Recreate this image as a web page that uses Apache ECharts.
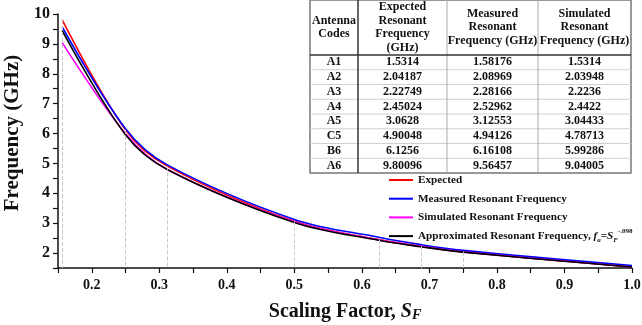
<!DOCTYPE html>
<html>
<head>
<meta charset="utf-8">
<script src="https://cdn.jsdelivr.net/npm/echarts@6/dist/echarts.min.js"></script>
<style>
  html, body { margin: 0; padding: 0; background: #fff; }
  #chart { width: 642px; height: 325px; }
</style>
</head>
<body>
<div id="chart"></div>
<script>
// 表格数据 (A1 ... A6)
const codes = ['A1', 'A2', 'A3', 'A4', 'A5', 'C5', 'B6', 'A6']
const scalingFactor = [1, 0.75, 0.6875, 0.625, 0.5, 0.3125, 0.25, 0.15625]
const expected = [1.5314, 2.04187, 2.22749, 2.45024, 3.0628, 4.90048, 6.1256, 9.80096]
const measured = [1.58176, 2.08969, 2.28166, 2.52962, 3.12553, 4.94126, 6.16108, 9.56457]
const simulated = [1.5314, 2.03948, 2.2236, 2.4422, 3.04433, 4.78713, 5.99286, 9.04005]
// 近似曲线
const approximated = [1.531, 2.03, 2.211, 2.427, 3.021, 4.788, 5.958, 9.444]

const seriesNames = ['Expected', 'Measured Resonant Frequency', 'Simulated Resonant Frequency', 'Approximated Resonant Frequency']
const seriesColors = ['#ff0000', '#0000ff', '#ff00ff', '#000000']

const FONT = 'Liberation Serif'

const pairs = (vals) => scalingFactor.map((s, i) => [s, vals[i]])

/* 表格 */
const colX = [310, 358, 447, 538, 631]
const tableTop = 0
const headerBottom = 55
const rowH = 14.75
const headers = [
  { lines: ['Antenna', 'Codes'], y: [21, 34] },
  { lines: ['Expected', 'Resonant', 'Frequency', '(GHz)'], y: [7, 21, 34, 48] },
  { lines: ['Measured', 'Resonant', 'Frequency (GHz)'], y: [14, 27, 41] },
  { lines: ['Simulated', 'Resonant', 'Frequency (GHz)'], y: [14, 27, 41] }
]
const buildTable = () => {
  const els = []
  const bottom = headerBottom + rowH * codes.length
  els.push({
    type: 'rect', z: 100,
    shape: { x: colX[0], y: tableTop, width: colX[4] - colX[0], height: bottom - tableTop },
    style: { fill: '#fff', stroke: '#777', lineWidth: 1.5 }
  })
  for (let r = 1; r < codes.length; r++) {
    const y = headerBottom + r * rowH
    els.push({ type: 'line', z: 101, shape: { x1: colX[0], y1: y, x2: colX[4], y2: y }, style: { stroke: '#d0d0d0', lineWidth: 1 } })
  }
  for (let c = 2; c < 4; c++) {
    els.push({ type: 'line', z: 101, shape: { x1: colX[c], y1: tableTop, x2: colX[c], y2: bottom }, style: { stroke: '#aaa', lineWidth: 1 } })
  }
  els.push({ type: 'line', z: 102, shape: { x1: colX[1], y1: tableTop, x2: colX[1], y2: bottom }, style: { stroke: '#333', lineWidth: 1.5 } })
  els.push({ type: 'line', z: 102, shape: { x1: colX[0], y1: headerBottom, x2: colX[4], y2: headerBottom }, style: { stroke: '#333', lineWidth: 1.5 } })
  headers.forEach((h, c) => {
    const cx = (colX[c] + colX[c + 1]) / 2
    h.lines.forEach((t, k) => {
      els.push({
        type: 'text', z: 103, x: cx, y: h.y[k],
        style: { text: t, fill: '#111', font: 'bold 12px "' + FONT + '"', align: 'center', verticalAlign: 'middle' }
      })
    })
  })
  const cols = [codes, expected, measured, simulated]
  cols.forEach((col, c) => {
    const cx = (colX[c] + colX[c + 1]) / 2
    col.forEach((v, r) => {
      els.push({
        type: 'text', z: 103, x: cx, y: headerBottom + (r + 0.5) * rowH,
        style: { text: String(v), fill: '#111', font: 'bold 12px "' + FONT + '"', align: 'center', verticalAlign: 'middle' }
      })
    })
  })
  return els
}

const chart = echarts.init(document.getElementById('chart'))
const option = {
  animation: false,
  backgroundColor: '#fff',
  grid: { left: 58, right: 10, top: 14, bottom: 57, outerBoundsMode: 'none' },
  legend: {
    orient: 'vertical',
    left: 389, top: 172, padding: 0,
    itemWidth: 24, itemHeight: 2, itemGap: 2.7,
    icon: 'rect',
    data: seriesNames,
    textStyle: {
      fontFamily: FONT, fontWeight: 'bold', fontSize: 11.2, color: '#111', lineHeight: 16,
      rich: {
        n: { fontFamily: FONT, fontWeight: 'bold', fontSize: 11.2, color: '#111', lineHeight: 16 },
        i: { fontFamily: FONT, fontWeight: 'bold', fontStyle: 'italic', fontSize: 11.2, color: '#111', lineHeight: 16 },
        s: { fontFamily: FONT, fontWeight: 'bold', fontStyle: 'italic', fontSize: 7, color: '#111', lineHeight: 8, verticalAlign: 'bottom' },
        p: { fontFamily: FONT, fontWeight: 'bold', fontSize: 7, color: '#111', lineHeight: 8, verticalAlign: 'top' }
      }
    },
    formatter: (name) => name.startsWith('Approximated')
      ? '{n|' + name + ', }{i|f}{s|a}{n|=}{i|S}{s|F}{p|-.098}'
      : name
  },
  xAxis: {
    type: 'value',
    min: 0.15, max: 1.0, interval: 0.05,
    name: 'Scaling Factor, {i|S}{s|F}',
    nameLocation: 'middle', nameGap: 34,
    nameTextStyle: {
      fontFamily: FONT, fontWeight: 'bold', fontSize: 20, color: '#111',
      rich: {
        i: { fontFamily: FONT, fontWeight: 'bold', fontStyle: 'italic', fontSize: 20, color: '#111' },
        s: { fontFamily: FONT, fontWeight: 'bold', fontStyle: 'italic', fontSize: 14, color: '#111', verticalAlign: 'bottom', lineHeight: 12 }
      }
    },
    axisLine: { lineStyle: { color: '#111', width: 1.5 } },
    axisTick: { length: 5, lineStyle: { color: '#111', width: 1.2 } },
    axisLabel: {
      fontFamily: FONT, fontWeight: 'bold', fontSize: 14, color: '#111', margin: 10,
      formatter: (v) => {
        const t = v * 10
        return (Math.abs(t - Math.round(t)) < 1e-6 && v > 0.19) ? v.toFixed(1) : ''
      }
    },
    splitLine: { show: false }
  },
  yAxis: {
    type: 'value',
    min: 1.5, max: 10, interval: 0.5,
    name: 'Frequency (GHz)',
    nameLocation: 'middle', nameGap: 31,
    nameTextStyle: { fontFamily: FONT, fontWeight: 'bold', fontSize: 21, color: '#111', padding: [0, 0, 0, 16] },
    axisLine: { show: true, lineStyle: { color: '#111', width: 1.5 } },
    axisTick: { show: true, length: 5, lineStyle: { color: '#111', width: 1.2 } },
    axisLabel: {
      fontFamily: FONT, fontWeight: 'bold', fontSize: 16, color: '#111', margin: 8,
      formatter: (v) => (Number.isInteger(v) && v >= 2) ? String(v) : ''
    },
    splitLine: { show: false }
  },
  series: [
    {
      name: seriesNames[0], type: 'line', data: pairs(expected),
      smooth: 0.35, showSymbol: false, symbol: 'none',
      lineStyle: { color: seriesColors[0], width: 1.6 }, itemStyle: { color: seriesColors[0] },
      markLine: {
        silent: true, symbol: 'none', label: { show: false },
        lineStyle: { type: 'dashed', color: '#c8c8c8', width: 1 },
        data: pairs(expected).map(p => [{ coord: p }, { coord: [p[0], 1.5] }])
      }
    },
    {
      name: seriesNames[1], type: 'line', data: pairs(measured),
      smooth: 0.35, showSymbol: false, symbol: 'none',
      lineStyle: { color: seriesColors[1], width: 1.6 }, itemStyle: { color: seriesColors[1] }
    },
    {
      name: seriesNames[2], type: 'line', data: pairs(simulated),
      smooth: 0.35, showSymbol: false, symbol: 'none',
      lineStyle: { color: seriesColors[2], width: 1.6 }, itemStyle: { color: seriesColors[2] }
    },
    {
      name: seriesNames[3], type: 'line', data: pairs(approximated),
      smooth: 0.35, showSymbol: false, symbol: 'none',
      lineStyle: { color: seriesColors[3], width: 1.6 }, itemStyle: { color: seriesColors[3] }
    }
  ],
  graphic: buildTable()
}
chart.setOption(option)
</script>
</body>
</html>
